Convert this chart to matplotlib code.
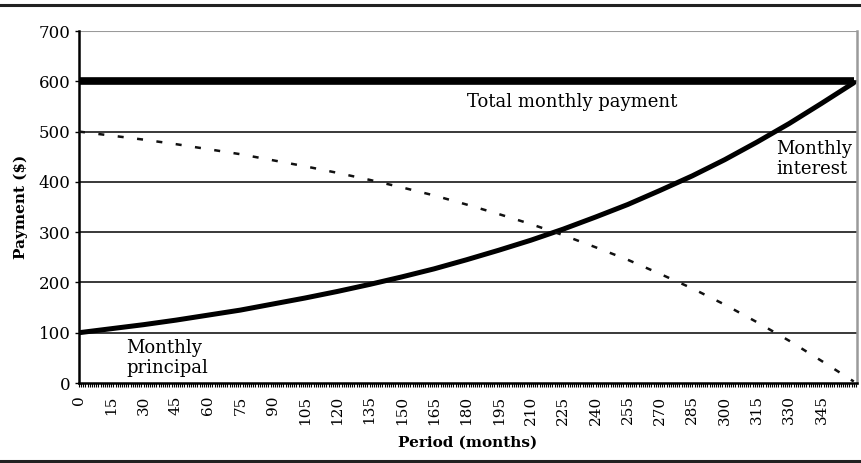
import matplotlib
matplotlib.use("Agg")
import matplotlib.pyplot as plt
from matplotlib.ticker import MultipleLocator, FixedLocator
from matplotlib.lines import Line2D

plt.rcParams['font.family'] = ['DejaVu Serif']

# values (every 15 months)
months = [0, 15, 30, 45, 60, 75, 90, 105, 120, 135, 150, 165, 180,
          195, 210, 225, 240, 255, 270, 285, 300, 315, 330, 345, 360]
principal = [100, 108, 116, 125, 135, 145, 157, 169, 182, 196, 211, 227, 245,
             264, 284, 306, 330, 355, 383, 412, 444, 479, 516, 556, 597]
interest = [500, 492, 484, 475, 465, 455, 443, 431, 418, 404, 389, 373, 355,
            336, 316, 294, 270, 245, 217, 188, 156, 121, 84, 44, 3]
payment = [600] * len(months)
tick_months = list(range(0, 346, 15))

fig = plt.figure(figsize=(8.62, 4.63), dpi=100)
ax = fig.add_axes([79/862, 1 - 383/463, (857-79)/862, (383-31)/463])

# gridlines
for v in range(100, 700, 100):
    ax.axhline(v, color='#2a2a2a', lw=1.3, zorder=1)
ax.axhline(700, color='#9a9a9a', lw=1.5, zorder=1)

ax.plot(months, payment, color='black', lw=5.5, solid_capstyle='butt', zorder=3)
ax.plot(months, principal, color='black', lw=3.6, solid_capstyle='round', zorder=3)
ax.plot(months, interest, color='#111111', lw=1.8, linestyle=(0, (2.4, 5.4)), zorder=3)

ax.set_xlim(0, 361.5)
ax.set_ylim(0, 700)
ax.xaxis.set_major_locator(FixedLocator(tick_months))
ax.xaxis.set_minor_locator(MultipleLocator(1))
ax.yaxis.set_major_locator(MultipleLocator(100))
ax.tick_params(axis='x', which='both', direction='out', length=3, width=0.8,
               labelsize=11, labelrotation=90, pad=6)
ax.tick_params(axis='y', direction='out', length=3, width=1, labelsize=12, pad=3)

for s in ['left', 'bottom']:
    ax.spines[s].set_linewidth(1.8)
    ax.spines[s].set_color('black')
ax.spines['top'].set_visible(False)
ax.spines['right'].set_color('#9a9a9a')
ax.spines['right'].set_linewidth(1.8)

ax.set_ylabel('Payment ($)', fontsize=11, fontweight='bold', labelpad=8)
ax.set_xlabel('Period (months)', fontsize=11, fontweight='bold', labelpad=8)

ax.text(229, 559, 'Total monthly payment', fontsize=13, ha='center', va='center')
ax.text(324, 445, 'Monthly\ninterest', fontsize=13, ha='left', va='center', linespacing=1.15)
ax.text(22, 50, 'Monthly\nprincipal', fontsize=13, ha='left', va='center', linespacing=1.15)

# horizontal rules above and below the chart
fig.add_artist(Line2D([0, 1], [1 - 5/463, 1 - 5/463], color='#222222', lw=2.2))
fig.add_artist(Line2D([0, 1], [1 - 461/463, 1 - 461/463], color='#222222', lw=2.2))

fig.savefig('out.png', dpi=100)
